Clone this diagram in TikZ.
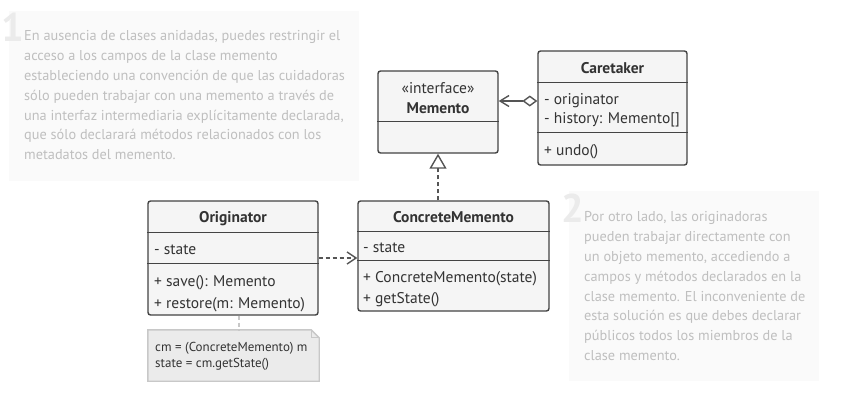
\documentclass[tikz,border=0pt]{standalone}
\usepackage{fontspec}
\setmainfont{PT Sans}
\usetikzlibrary{arrows.meta}
\definecolor{boxline}{HTML}{444444}
\definecolor{boxfill}{HTML}{F5F5F5}
\definecolor{boxtext}{HTML}{333333}
\definecolor{panelbg}{HTML}{FAFAFA}
\definecolor{paneltext}{HTML}{BFBFBF}
\definecolor{digitc}{HTML}{EBEBEB}
\definecolor{arrowc}{HTML}{555555}
\definecolor{notefill}{HTML}{EBEBEB}
\definecolor{noteline}{HTML}{C8C8C8}
\tikzset{
  panelbox/.style={fill=panelbg, draw=none, inner sep=0pt},
  digitstyle/.style={font=\bfseries\fontsize{40}{40}\selectfont, text=digitc, anchor=base west, inner sep=0pt},
  paneltxt/.style={font=\fontsize{14.3}{19.8}\selectfont, text=paneltext, anchor=north west, inner sep=0pt, align=left},
  classbox/.style={draw=boxline, fill=boxfill, line width=1.4pt, rounded corners=2.5pt, inner sep=0pt},
  divider/.style={draw=boxline, line width=1.4pt},
  umltext/.style={font=\fontsize{15.5}{18}\selectfont, text=boxtext, anchor=base west, inner sep=0pt},
  umltitle/.style={font=\bfseries\fontsize{15.5}{18}\selectfont, text=boxtext, anchor=base, inner sep=0pt},
  umlplain/.style={font=\fontsize{15.5}{18}\selectfont, text=boxtext, anchor=base, inner sep=0pt},
  arrowline/.style={draw=arrowc, line width=1.4pt},
  dashline/.style={dash pattern=on 4pt off 3pt},
  noteshape/.style={draw=none, inner sep=0pt},
  notetxt/.style={font=\fontsize{13}{16}\selectfont, text=boxtext, anchor=north west, inner sep=0pt, align=left},
}
\begin{document}
\begin{tikzpicture}[x=1pt,y=-1pt]
\useasboundingbox (0,0) rectangle (844,407);
\fill[white] (0,0) rectangle (844,407);

% panels
\node[panelbox, minimum width=350pt, minimum height=170pt] (p1) at (184,96) {};
\node[digitstyle] (d1) at (1,41) {1};
\node[paneltxt] (t1) at (24,30.5) {En ausencia de clases anidadas, puedes restringir el\\acceso a los campos de la clase memento\\estableciendo una convención de que las cuidadoras\\sólo pueden trabajar con una memento a través de\\una interfaz intermediaria explícitamente declarada,\\que sólo declarará métodos relacionados con los\\metadatos del memento.};

\node[panelbox, minimum width=250pt, minimum height=190pt] (p2) at (694,286) {};
\node[digitstyle] (d2) at (561,222) {2};
\node[paneltxt] (t2) at (584,211.5) {Por otro lado, las originadoras\\pueden trabajar directamente con\\un objeto memento, accediendo a\\campos y métodos declarados en la\\clase memento. El inconveniente de\\esta solución es que debes declarar\\públicos todos los miembros de la\\clase memento.};

% classes
\node[classbox, minimum width=120pt, minimum height=82pt] (mem) at (438,112) {};
\draw[divider] ([yshift=-51pt]mem.north west) -- ([yshift=-51pt]mem.north east);
\node[umlplain] (memS) at (438,93.5) {«interface»};
\node[umltitle] (memT) at (438,113.5) {Memento};

\node[classbox, minimum width=149pt, minimum height=114pt] (car) at (612.5,108) {};
\draw[divider] ([yshift=-32pt]car.north west) -- ([yshift=-32pt]car.north east);
\draw[divider] ([yshift=-82pt]car.north west) -- ([yshift=-82pt]car.north east);
\node[umltitle] (carT) at (612.5,73.5) {Caretaker};
\node[umltext] (carA1) at (544,104.5) {- originator};
\node[umltext] (carA2) at (544,123.5) {- history: Memento[]};
\node[umltext] (carM1) at (544,155.5) {+ undo()};

\node[classbox, minimum width=170pt, minimum height=114pt] (orig) at (233,258) {};
\draw[divider] ([yshift=-32pt]orig.north west) -- ([yshift=-32pt]orig.north east);
\draw[divider] ([yshift=-63pt]orig.north west) -- ([yshift=-63pt]orig.north east);
\node[umltitle] (origT) at (233,222.5) {Originator};
\node[umltext] (origA1) at (154,254.5) {- state};
\node[umltext] (origM1) at (154,286) {+ save(): Memento};
\node[umltext] (origM2) at (154,308.5) {+ restore(m: Memento)};

\node[classbox, minimum width=191pt, minimum height=110pt] (cm) at (453.5,256) {};
\draw[divider] ([yshift=-31pt]cm.north west) -- ([yshift=-31pt]cm.north east);
\draw[divider] ([yshift=-60pt]cm.north west) -- ([yshift=-60pt]cm.north east);
\node[umltitle] (cmT) at (453.5,222.5) {ConcreteMemento};
\node[umltext] (cmA1) at (363,252.5) {- state};
\node[umltext] (cmM1) at (363,282.5) {+ ConcreteMemento(state)};
\node[umltext] (cmM2) at (363,303.5) {+ getState()};

% note
\node[noteshape, minimum width=171pt, minimum height=51pt] (note) at (233.5,355.5) {};
\filldraw[fill=notefill, draw=noteline, line width=1.4pt] (note.south west) -- (note.north west) -- ([xshift=-8pt]note.north east) -- ([yshift=-8pt]note.north east) -- (note.south east) -- cycle;
\draw[draw=noteline, line width=1.2pt] ([xshift=-8pt]note.north east) |- ([yshift=-8pt]note.north east);
\node[notetxt] (noteT) at (155,342) {cm = (ConcreteMemento) m\\state = cm.getState()};
\draw[draw=noteline, line width=1.2pt, dashline] ([xshift=6pt]orig.south) -- ([xshift=6pt]orig.south |- note.north);

% connectors
\coordinate (aggc) at ([yshift=7pt]car.west);
\draw[arrowline, {Diamond[length=15pt,width=11pt,fill=white]}-{Straight Barb[length=9pt,width=11pt]}] (aggc) -- (mem.east |- aggc);
\draw[arrowline, dashline, -{Triangle[open,length=15pt,width=17pt]}] (mem.south |- cm.north) -- (mem.south);
\draw[arrowline, dashline, -{Straight Barb[length=9pt,width=12pt]}] (orig.east) -- (cm.west |- orig.east);
\end{tikzpicture}
\end{document}
